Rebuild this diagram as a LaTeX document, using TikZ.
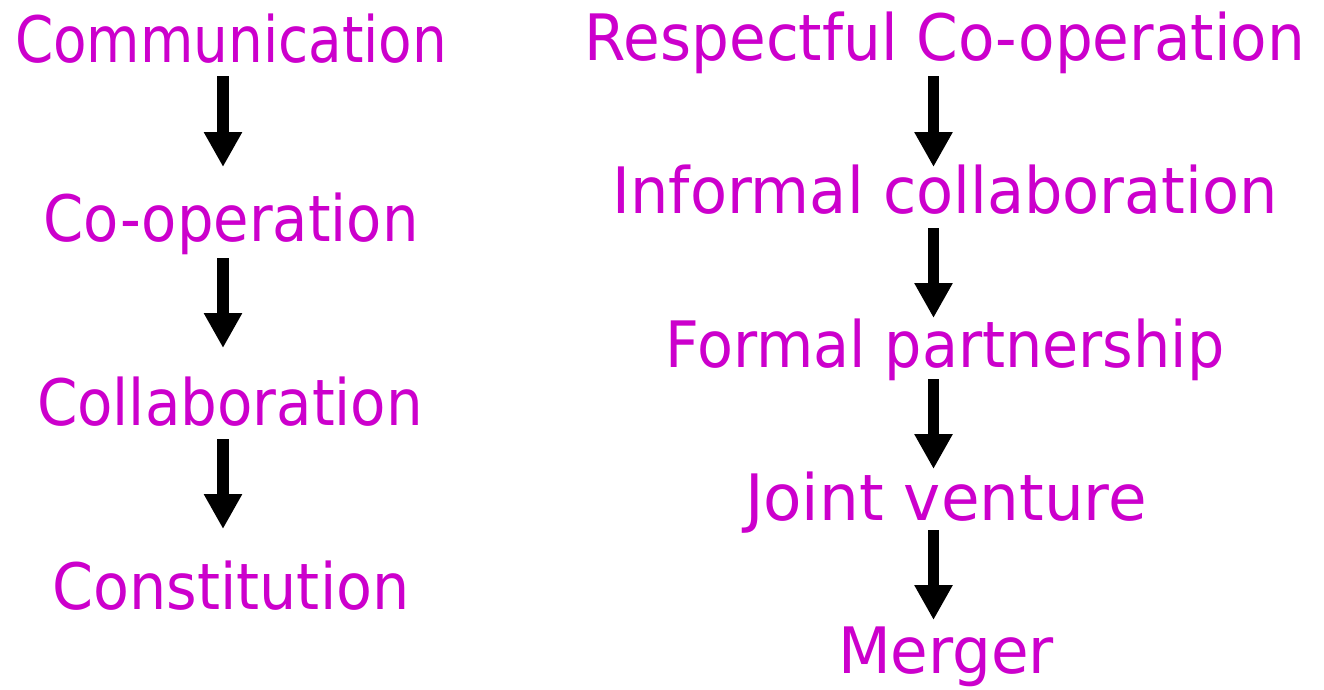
\documentclass[tikz,border=0pt]{standalone}
\usepackage{fontspec}
\setmainfont{DejaVu Sans}
\usepackage{graphicx}
\usetikzlibrary{arrows.meta,calc}
\definecolor{mag}{HTML}{CC00CC}
\newcommand{\fitw}[2]{\resizebox{#1pt}{\height}{#2}}
\tikzset{
  lbl/.style={anchor=base, inner sep=0pt, text=mag, font=\fontsize{64}{70}\selectfont},
  arr/.style={line width=11.5pt, -{Triangle[width=36pt,length=35pt]}}
}
\begin{document}
\begin{tikzpicture}[x=1pt,y=-1pt]
\useasboundingbox (0,0) rectangle (1324,689);
% left column
\node[lbl] (l1) at (231,62) {\fitw{432}{Communication}};
\node[lbl] (l2) at (231,241) {\fitw{375}{Co-operation}};
\node[lbl] (l3) at (230,425) {\fitw{386}{Collaboration}};
\node[lbl] (l4) at (231,609) {\fitw{357}{Constitution}};
\draw[arr] ($(l1.base)+(-8,14)$) -- ($(l2.base)+(-8,-74)$);
\draw[arr] ($(l2.base)+(-8,17)$) -- ($(l2.base)+(-8,107)$);
\draw[arr] ($(l3.base)+(-7,14)$) -- ($(l4.base)+(-8,-80)$);
% right column
\node[lbl] (r1) at (945,60) {\fitw{720}{Respectful Co-operation}};
\node[lbl] (r2) at (945,213) {\fitw{665}{Informal collaboration}};
\node[lbl] (r3) at (945,367) {\fitw{559}{Formal partnership}};
\node[lbl] (r4) at (946,520) {\fitw{402}{Joint venture}};
\node[lbl] (r5) at (946,673) {\fitw{216}{Merger}};
\draw[arr] ($(r1.base)+(-11.5,16)$) -- ($(r2.base)+(-11.5,-46)$);
\draw[arr] ($(r2.base)+(-11.5,15)$) -- ($(r3.base)+(-11.5,-49)$);
\draw[arr] ($(r3.base)+(-11.5,12)$) -- ($(r4.base)+(-12.5,-51)$);
\draw[arr] ($(r4.base)+(-12.5,10)$) -- ($(r5.base)+(-12.5,-53)$);
\end{tikzpicture}
\end{document}
